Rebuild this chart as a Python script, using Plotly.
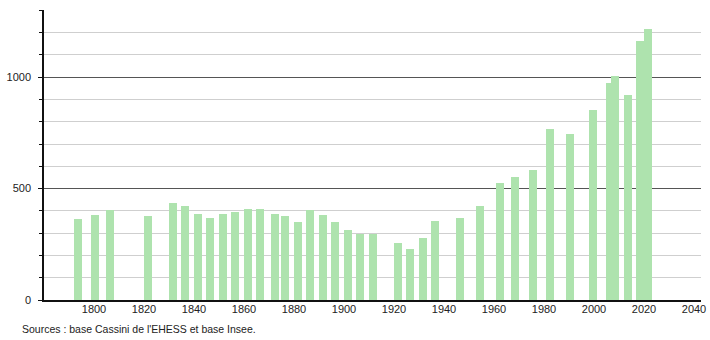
import plotly.graph_objects as go

years = [1793, 1800, 1806, 1821, 1831, 1836, 1841, 1846, 1851, 1856,
         1861, 1866, 1872, 1876, 1881, 1886, 1891, 1896, 1901, 1906,
         1911, 1921, 1926, 1931, 1936, 1946, 1954, 1962, 1968, 1975,
         1982, 1990, 1999, 2006, 2008, 2013, 2018, 2021]
population = [365, 380, 405, 377, 437, 422, 388, 370, 388, 394,
              409, 409, 388, 377, 352, 404, 380, 352, 314, 296,
              296, 256, 230, 277, 356, 370, 423, 525, 552, 585,
              769, 747, 855, 976, 1004, 920, 1163, 1215]

x_ticks = [1800, 1820, 1840, 1860, 1880, 1900, 1920, 1940, 1960, 1980, 2000, 2020, 2040]
y_ticks = [0, 500, 1000]
source_text = "Sources : base Cassini de l'EHESS et base Insee."

fig = go.Figure()
fig.add_trace(go.Bar(
    x=years, y=population,
    width=3.1, offset=-1.1,
    marker=dict(color="#aee3ae", line=dict(width=0)),
    hoverinfo="x+y",
))

font = dict(family="Liberation Sans, Arial, sans-serif", size=11, color="#222222")

fig.update_layout(
    width=710, height=340,
    margin=dict(l=44, r=9, t=10, b=40),
    paper_bgcolor="white", plot_bgcolor="white",
    showlegend=False,
    font=font,
    bargap=0,
    xaxis=dict(
        range=[1780, 2042.8], automargin=False,
        tickmode="array", tickvals=x_ticks,
        ticks="", showgrid=False,
        showline=True, linecolor="#111111", linewidth=1.5,
        zeroline=False, tickfont=font, ticklabelstandoff=-2,
    ),
    yaxis=dict(
        range=[0, 1302], automargin=False,
        tickmode="array", tickvals=y_ticks,
        ticks="outside", ticklen=4, tickcolor="#111111",
        showgrid=True, gridcolor="#555555", gridwidth=1,
        showline=True, linecolor="#111111", linewidth=1.5,
        zeroline=False, tickfont=font, ticklabelstandoff=5,
        minor=dict(dtick=100, tick0=0, showgrid=True, gridcolor="#cfcfcf",
                   gridwidth=1, ticks="outside", ticklen=3, tickcolor="#111111"),
    ),
    annotations=[dict(
        text=source_text, xref="paper", yref="paper",
        x=-24/657, y=-29/290, xanchor="left", yanchor="middle",
        showarrow=False, font=dict(family="Liberation Sans, Arial, sans-serif", size=10.5, color="#222222"),
    )],
)

fig.write_html("out.html")
